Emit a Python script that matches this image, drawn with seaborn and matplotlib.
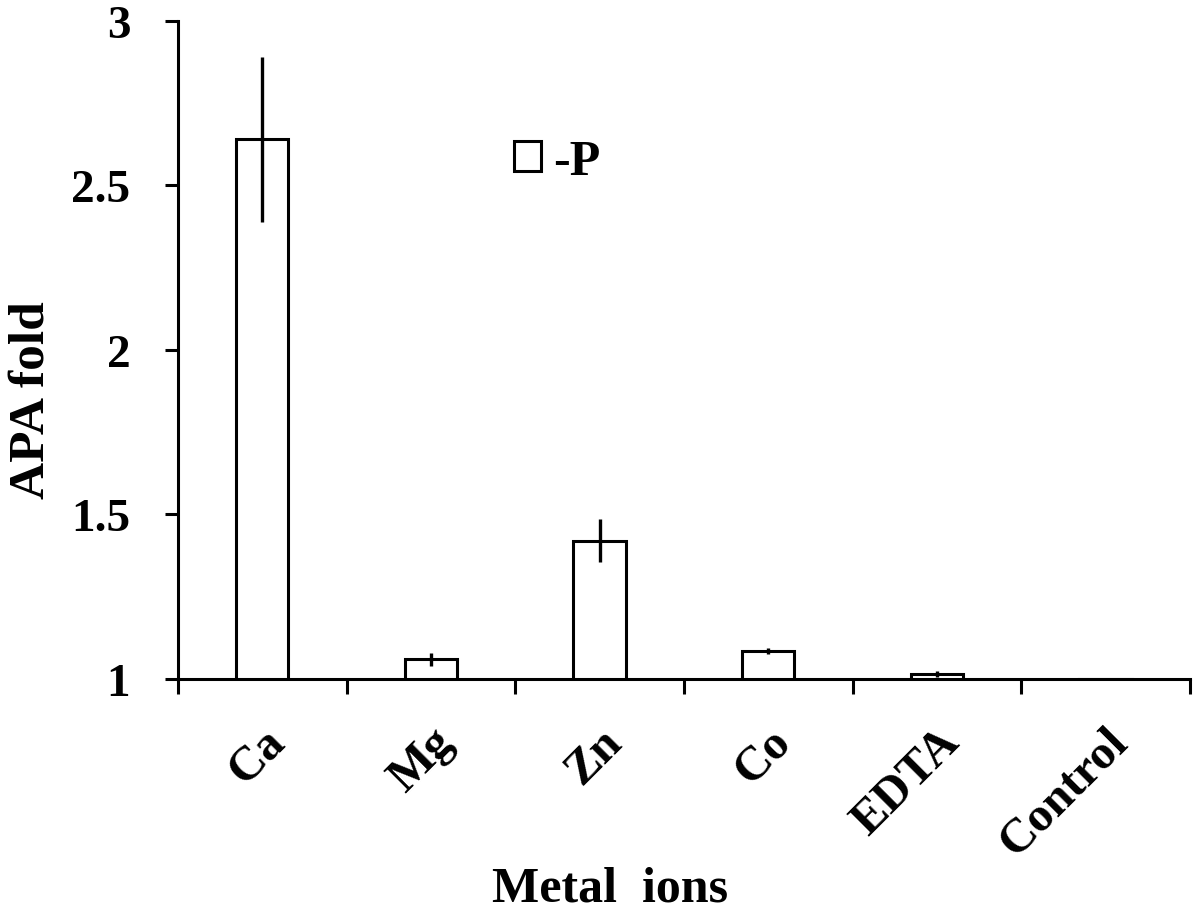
import matplotlib
matplotlib.use('Agg')
import matplotlib.pyplot as plt
import seaborn as sns
import numpy as np
from matplotlib.patches import Patch

# values
ions = ['Ca', 'Mg', 'Zn', 'Co', 'EDTA', 'Control']
apa_fold = [2.64, 1.06, 1.42, 1.085, 1.015, 1.0]
apa_err = [0.25, 0.02, 0.065, 0.01, 0.008, 0.0]
y_ticks = [1, 1.5, 2, 2.5, 3]
y_tick_labels = ['1', '1.5', '2', '2.5', '3']

sns.set_theme(style='white')
plt.rcParams['font.family'] = ['Liberation Serif', 'DejaVu Serif']
plt.rcParams['font.weight'] = 'bold'
plt.rcParams['text.color'] = 'black'
plt.rcParams['axes.labelcolor'] = 'black'
plt.rcParams['xtick.color'] = 'black'
plt.rcParams['ytick.color'] = 'black'

fig = plt.figure(figsize=(12.03, 9.12), dpi=100)
ax = fig.add_axes([0.148, 0.2544, 0.841, 0.7215])

sns.barplot(x=ions, y=apa_fold, color='white', edgecolor='black',
            linewidth=2.2, width=0.31, saturation=1, ax=ax, label='-P')
ax.errorbar(np.arange(len(ions)), apa_fold, yerr=apa_err, fmt='none',
            ecolor='black', elinewidth=2.4, capsize=0)

ax.set_ylim(1, 3)
ax.set_xlim(-0.5, len(ions) - 0.5)
ax.set_yticks(y_ticks)
ax.set_yticklabels(y_tick_labels, fontsize=34, fontweight='bold')

# labels at category centres, tick marks at the boundaries
ax.set_xticks(np.arange(len(ions)))
ax.set_xticklabels(ions, fontsize=35, fontweight='bold', rotation=45,
                   ha='right', rotation_mode='anchor')
ax.set_xticks(np.arange(-0.5, len(ions)), minor=True)
ax.tick_params(axis='x', which='major', length=0, pad=29)
ax.tick_params(axis='x', which='minor', length=11, width=2.2,
               direction='out', bottom=True)
ax.tick_params(axis='y', length=9.5, width=2.2, direction='out',
               left=True, pad=25)

for side in ['top', 'right']:
    ax.spines[side].set_visible(False)
for side in ['left', 'bottom']:
    ax.spines[side].set_color('black')
    ax.spines[side].set_linewidth(2.2)

ax.set_xlabel('Metal  ions', fontsize=36, fontweight='bold')
ax.xaxis.set_label_coords(0.427, -0.283)
ax.set_ylabel('APA fold', fontsize=37, fontweight='bold')
ax.yaxis.set_label_coords(-0.122, 0.4255)

handle = Patch(facecolor='white', edgecolor='black', linewidth=2.2)
ax.legend([handle], ['-P'], loc='center left', bbox_to_anchor=(0.332, 0.786),
          frameon=False, prop={'size': 36, 'weight': 'bold'},
          handlelength=0.54, handleheight=0.54, handletextpad=0.24,
          borderpad=0, borderaxespad=0)

fig.savefig('out.png', dpi=100, facecolor='white')
plt.close(fig)
